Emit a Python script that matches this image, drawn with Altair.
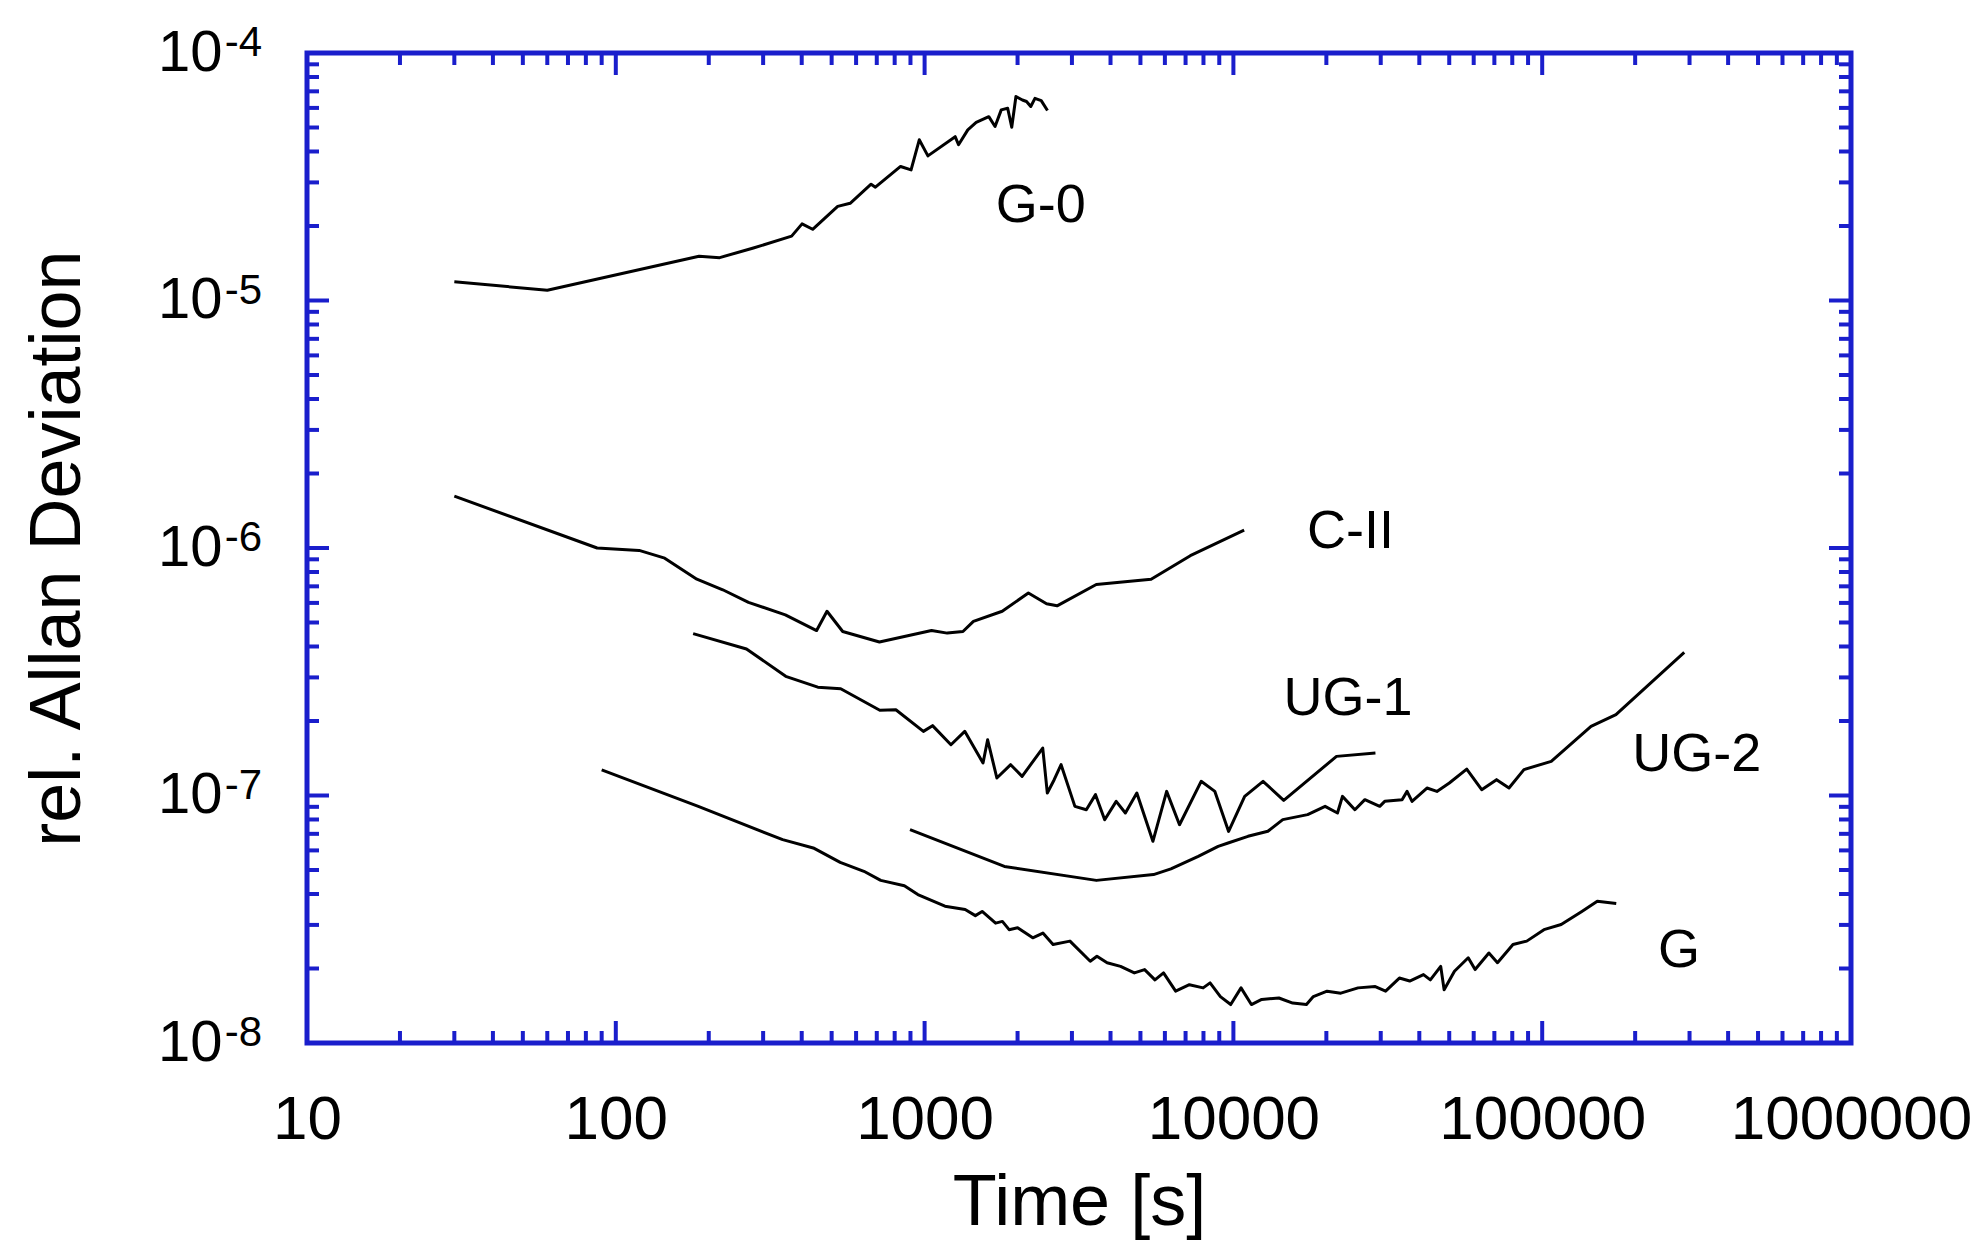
import altair as alt
import pandas as pd

BLUE = "#1a1ecc"
FONT = "Liberation Sans"
W, H = 1544, 990

# ---- series data (time [s], relative Allan deviation) ----
G0_t = [30, 60, 186, 217, 279, 371, 401, 434, 523, 574, 671, 693, 836, 904, 961, 1025,
        1256, 1288, 1380, 1469, 1614, 1691, 1771, 1858, 1915, 1976, 2073, 2138, 2207,
        2277, 2386, 2500]
G0_v = [1.19e-5, 1.10e-5, 1.51e-5, 1.49e-5, 1.63e-5, 1.82e-5, 2.04e-5, 1.94e-5, 2.40e-5,
        2.47e-5, 2.95e-5, 2.87e-5, 3.48e-5, 3.37e-5, 4.46e-5, 3.84e-5, 4.59e-5, 4.26e-5,
        4.89e-5, 5.24e-5, 5.53e-5, 5.05e-5, 5.89e-5, 5.98e-5, 5.01e-5, 6.67e-5, 6.46e-5,
        6.37e-5, 6.08e-5, 6.56e-5, 6.42e-5, 5.86e-5]

CII_t = [30, 87, 119, 144, 183, 222, 269, 354, 447, 483, 543, 714, 1053, 1184, 1331, 1439,
         1784, 2168, 2483, 2685, 3597, 4286, 5414, 7252, 10834]
CII_v = [1.62e-6, 1.00e-6, 9.78e-7, 9.10e-7, 7.48e-7, 6.78e-7, 6.03e-7, 5.37e-7, 4.64e-7,
         5.55e-7, 4.60e-7, 4.17e-7, 4.64e-7, 4.53e-7, 4.60e-7, 5.05e-7, 5.55e-7, 6.58e-7,
         5.95e-7, 5.84e-7, 7.12e-7, 7.27e-7, 7.48e-7, 9.31e-7, 1.18e-6]

UG1_t = [178, 265, 355, 451, 535, 716, 807, 991, 1061, 1217, 1349, 1546, 1600, 1714, 1900,
         2069, 2413, 2497, 2628, 2767, 3067, 3340, 3577, 3830, 4173, 4469, 4867, 5487, 6079,
         6691, 7863, 8709, 9650, 10877, 12474, 14553, 21570, 28840]
UG1_v = [4.51e-7, 3.91e-7, 3.03e-7, 2.74e-7, 2.70e-7, 2.21e-7, 2.22e-7, 1.816e-7, 1.915e-7,
         1.604e-7, 1.816e-7, 1.353e-7, 1.680e-7, 1.177e-7, 1.332e-7, 1.195e-7, 1.555e-7,
         1.023e-7, 1.158e-7, 1.332e-7, 9.04e-8, 8.76e-8, 1.008e-7, 7.98e-8, 9.47e-8, 8.50e-8,
         1.023e-7, 6.53e-8, 1.039e-7, 7.62e-8, 1.141e-7, 1.039e-7, 7.16e-8, 9.92e-8, 1.141e-7,
         9.56e-8, 1.439e-7, 1.485e-7]

UG2_t = [897, 1813, 3600, 5512, 6276, 7694, 8925, 9612, 11147, 12931, 14452, 17394, 19813,
         21730, 22551, 24743, 26650, 29778, 30903, 35180, 36509, 37886, 42347, 45604, 50038,
         56960, 63680, 71150, 78070, 87270, 106980, 143900, 173300, 288400]
UG2_v = [7.28e-8, 5.17e-8, 4.54e-8, 4.79e-8, 5.05e-8, 5.68e-8, 6.23e-8, 6.43e-8, 6.84e-8,
         7.17e-8, 7.99e-8, 8.37e-8, 9.04e-8, 8.50e-8, 9.92e-8, 8.76e-8, 9.62e-8, 9.04e-8,
         9.47e-8, 9.62e-8, 1.039e-7, 9.47e-8, 1.072e-7, 1.039e-7, 1.123e-7, 1.279e-7,
         1.056e-7, 1.159e-7, 1.072e-7, 1.272e-7, 1.374e-7, 1.903e-7, 2.12e-7, 3.79e-7]

G_t = [90, 185, 347, 436, 533, 636, 721, 860, 951, 1164, 1353, 1460, 1536, 1698, 1786, 1878,
       2001, 2240, 2416, 2606, 2956, 3439, 3615, 3899, 4311, 4778, 5158, 5572, 5939, 6501,
       7203, 7980, 8403, 9075, 9801, 10585, 11435, 12350, 14040, 15560, 17240, 18150, 20110,
       22280, 25330, 28800, 31110, 34470, 37230, 41260, 43430, 46920, 48130, 51980, 57600,
       60640, 67200, 71650, 80420, 89130, 101300, 115200, 134400, 150800, 173700]
G_v = [1.27e-7, 9.04e-8, 6.63e-8, 6.14e-8, 5.37e-8, 4.94e-8, 4.54e-8, 4.32e-8, 3.98e-8,
       3.57e-8, 3.46e-8, 3.27e-8, 3.40e-8, 3.05e-8, 3.10e-8, 2.87e-8, 2.92e-8, 2.66e-8,
       2.78e-8, 2.50e-8, 2.58e-8, 2.14e-8, 2.24e-8, 2.11e-8, 2.04e-8, 1.92e-8, 1.98e-8,
       1.80e-8, 1.92e-8, 1.62e-8, 1.72e-8, 1.67e-8, 1.75e-8, 1.54e-8, 1.43e-8, 1.67e-8,
       1.43e-8, 1.50e-8, 1.52e-8, 1.45e-8, 1.43e-8, 1.54e-8, 1.62e-8, 1.59e-8, 1.67e-8,
       1.69e-8, 1.62e-8, 1.83e-8, 1.78e-8, 1.89e-8, 1.80e-8, 2.04e-8, 1.64e-8, 1.95e-8,
       2.21e-8, 1.98e-8, 2.31e-8, 2.11e-8, 2.50e-8, 2.58e-8, 2.87e-8, 3.01e-8, 3.40e-8,
       3.74e-8, 3.66e-8]

# ---- curve labels ----
LAB_text = ["G-0", "C-II", "UG-1", "UG-2", "G"]
LAB_t = [2377, 23930, 23500, 316700, 277500]
LAB_v = [2.41e-5, 1.16e-6, 2.45e-7, 1.46e-7, 2.36e-8]

# ---- axes ----
X_LABELS = [10, 100, 1000, 10000, 100000, 1000000]
X_MAJOR_TICKS = [100, 1000, 10000, 100000]
X_DECADES = [10, 100, 1000, 10000, 100000]
Y_LABELS = [1e-8, 1e-7, 1e-6, 1e-5, 1e-4]
Y_EXPONENTS = ["-8", "-7", "-6", "-5", "-4"]
Y_MAJOR_TICKS = [1e-7, 1e-6, 1e-5]
Y_DECADES = [1e-8, 1e-7, 1e-6, 1e-5]
MINOR_MULT = [2, 3, 4, 5, 6, 7, 8, 9]

x_minor = [m * d for d in X_DECADES for m in MINOR_MULT]
y_minor = [m * d for d in Y_DECADES for m in MINOR_MULT]

frames = []
for name, t, v in [("G-0", G0_t, G0_v), ("C-II", CII_t, CII_v), ("UG-1", UG1_t, UG1_v),
                   ("UG-2", UG2_t, UG2_v), ("G", G_t, G_v)]:
    frames.append(pd.DataFrame({"t": t, "v": v, "series": name}))
lines_df = pd.concat(frames, ignore_index=True)

x_scale = alt.Scale(type="log", domain=[10, 1e6], nice=False)
y_scale = alt.Scale(type="log", domain=[1e-8, 1e-4], nice=False)

x_axis = alt.Axis(
    title="Time [s]", titleFont=FONT, titleFontSize=72, titleFontWeight="normal",
    titleColor="black", titleX=W / 2, titleY=181, titleAlign="center",
    titleBaseline="alphabetic",
    values=X_LABELS, format="d", labelFont=FONT, labelFontSize=62, labelColor="black",
    labelPadding=95, labelBaseline="alphabetic", labelFlush=False, labelOverlap=False,
    labelLimit=600, domain=False, ticks=False, tickSize=0, grid=False,
)
y_axis = alt.Axis(
    title="rel. Allan Deviation", titleFont=FONT, titleFontSize=72, titleFontWeight="normal",
    titleColor="black", titleX=-250, titleY=H / 2, titleAngle=270, titleAlign="center",
    titleBaseline="middle",
    values=Y_LABELS, labelExpr="'10'", labelFont=FONT, labelFontSize=58, labelColor="black",
    labelPadding=85, labelAlign="right", labelBaseline="middle", labelFlush=False,
    labelOverlap=False, labelLimit=600, domain=False, ticks=False, tickSize=0, grid=False,
)


def X(field="t"):
    return alt.X(f"{field}:Q", scale=x_scale, axis=x_axis)


def Y(field="v"):
    return alt.Y(f"{field}:Q", scale=y_scale, axis=y_axis)


lines = alt.Chart(lines_df).mark_line(color="black", strokeWidth=3, strokeJoin="round").encode(
    x=X(), y=Y(), detail="series:N",
)

labels = alt.Chart(pd.DataFrame({"t": LAB_t, "v": LAB_v, "lab": LAB_text})).mark_text(
    font=FONT, fontSize=54, color="black", align="center", baseline="middle"
).encode(x=X(), y=Y(), text="lab:N")

exps = alt.Chart(pd.DataFrame({"v": Y_LABELS, "e": Y_EXPONENTS})).mark_text(
    font=FONT, fontSize=42, color="black", align="right", baseline="alphabetic", dy=3
).encode(x=alt.value(-45), y=Y(), text="e:N")

MAJ, MIN, TW = 22, 12, 4


def xticks(vals, length):
    df = pd.DataFrame({"t": vals})
    base = alt.Chart(df).mark_rule(color=BLUE, strokeWidth=TW)
    bottom = base.encode(x=X(), y=alt.value(H), y2=alt.value(H - length))
    top = base.encode(x=X(), y=alt.value(0), y2=alt.value(length))
    return [bottom, top]


def yticks(vals, length):
    df = pd.DataFrame({"v": vals})
    base = alt.Chart(df).mark_rule(color=BLUE, strokeWidth=TW)
    left = base.encode(y=Y(), x=alt.value(0), x2=alt.value(length))
    right = base.encode(y=Y(), x=alt.value(W), x2=alt.value(W - length))
    return [left, right]


tick_layers = (xticks(X_MAJOR_TICKS, MAJ) + xticks(x_minor, MIN)
               + yticks(Y_MAJOR_TICKS, MAJ) + yticks(y_minor, MIN))

chart = alt.layer(lines, *tick_layers, labels, exps).properties(
    width=W, height=H,
    autosize=alt.AutoSizeParams(type="none"),
    padding={"left": 307, "top": 53, "right": 132, "bottom": 199},
    background="white",
).configure(font=FONT).configure_view(stroke=BLUE, strokeWidth=5)

chart.save("out.html", embed_options={"renderer": "svg", "actions": False})
